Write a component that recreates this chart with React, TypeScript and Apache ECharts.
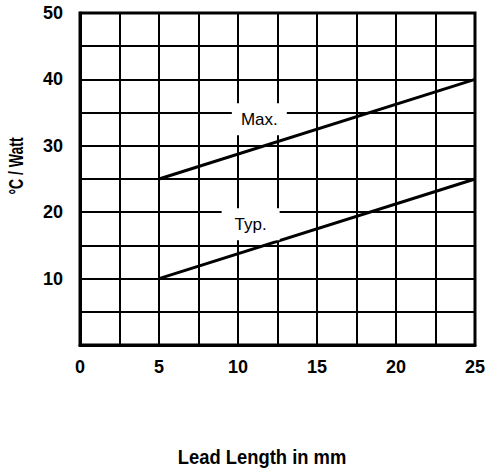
import React, { useEffect, useRef } from "react";
import * as echarts from "echarts";

const xTicks = [0, 5, 10, 15, 20, 25];
const yTicks = [10, 20, 30, 40, 50];
const maxLine: [number, number][] = [[5, 25], [25, 40]];
const typLine: [number, number][] = [[5, 10], [25, 25]];
const labelNames = ["Max.", "Typ."];
const labelPoints: [number, number][] = [[11.35, 34.0], [10.8, 18.2]];
const xTitle = "Lead Length in mm";
const yTitle = "°C / Watt";

const BOLD_FONT = "'Liberation Sans', Arial, sans-serif";
const REG_FONT = "'Liberation Sans', Arial, sans-serif";

export default function App() {
  const ref = useRef<HTMLDivElement>(null);
  useEffect(() => {
    if (!ref.current) return;
    const chart = echarts.init(ref.current, null, { renderer: "svg" });
    chart.setOption({
      animation: false,
      backgroundColor: "#fff",
      grid: {
        left: 80,
        top: 13,
        width: 396,
        height: 332,
        show: true,
        borderColor: "#000",
        borderWidth: 3,
        backgroundColor: "transparent",
      },
      xAxis: {
        type: "value",
        min: 0,
        max: 25,
        interval: 2.5,
        axisLine: { show: true, lineStyle: { color: "#000", width: 3 } },
        axisTick: { show: false },
        splitLine: { show: true, lineStyle: { color: "#000", width: 2 } },
        axisLabel: {
          margin: 13,
          color: "#000",
          fontSize: 18,
          fontWeight: "bold",
          fontFamily: BOLD_FONT,
          formatter: (v: number) => (xTicks.includes(v) ? String(v) : ""),
        },
      },
      yAxis: {
        type: "value",
        min: 0,
        max: 50,
        interval: 5,
        axisLine: { show: true, lineStyle: { color: "#000", width: 3 } },
        axisTick: { show: false },
        splitLine: { show: true, lineStyle: { color: "#000", width: 2 } },
        axisLabel: {
          margin: 17,
          color: "#000",
          fontSize: 18,
          fontWeight: "bold",
          fontFamily: BOLD_FONT,
          formatter: (v: number) => (yTicks.includes(v) ? String(v) : ""),
        },
      },
      series: [
        {
          type: "line",
          data: maxLine,
          symbol: "none",
          lineStyle: { color: "#000", width: 3 },
          z: 3,
        },
        {
          type: "line",
          data: typLine,
          symbol: "none",
          lineStyle: { color: "#000", width: 3 },
          z: 3,
        },
        {
          type: "scatter",
          symbol: "rect",
          z: 10,
          silent: true,
          itemStyle: { color: "#fff", opacity: 1 },
          data: labelPoints.map((p, i) => ({
            value: p,
            name: labelNames[i],
            symbolSize: i === 0 ? [55, 32] : [58, 32],
          })),
          label: {
            show: true,
            position: "inside",
            formatter: (p: any) => p.name,
            color: "#000",
            opacity: 1,
            fontSize: 17,
            fontFamily: REG_FONT,
          },
          emphasis: { disabled: true },
        },
      ],
      graphic: [
        {
          type: "text",
          x: 262,
          y: 457,
          scaleX: 0.92,
          style: {
            text: xTitle,
            textAlign: "center",
            textVerticalAlign: "middle",
            fontSize: 20,
            fontWeight: "bold",
            fontFamily: BOLD_FONT,
            fill: "#000",
          },
        },
        {
          type: "text",
          x: 16,
          y: 166,
          rotation: Math.PI / 2,
          scaleX: 0.7,
          style: {
            text: yTitle,
            textAlign: "center",
            textVerticalAlign: "middle",
            fontSize: 20,
            fontWeight: "bold",
            fontFamily: BOLD_FONT,
            fill: "#000",
          },
        },
      ],
    });
    return () => chart.dispose();
  }, []);
  return <div ref={ref} style={{ width: 488, height: 472, position: "absolute", left: 0, top: 0 }} />;
}
